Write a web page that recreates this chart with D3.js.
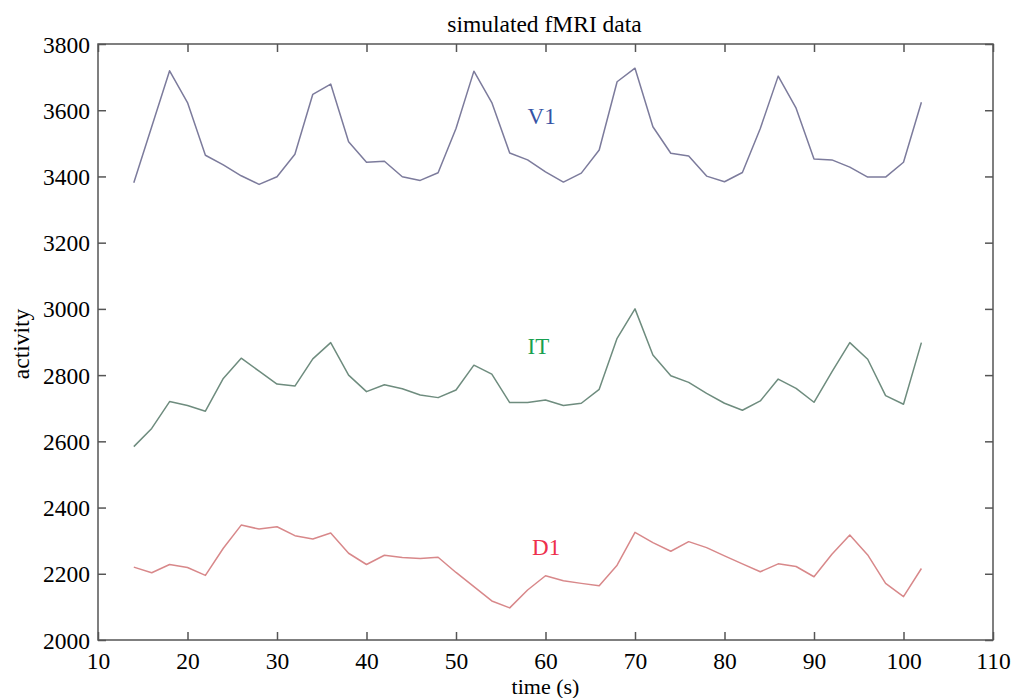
<!DOCTYPE html>
<html>
<head>
<meta charset="utf-8">
<script src="https://cdn.jsdelivr.net/npm/d3@7"></script>
<style>
    body { margin: 0; background: #fff; }
    text { font-family: "Liberation Serif", "Times New Roman", serif; }
</style>
</head>
<body>
<div id="chart"></div>
<script>
// time points (s)
var times = [14, 16, 18, 20, 22, 24, 26, 28, 30, 32, 34, 36, 38, 40, 42, 44, 46, 48, 50, 52, 54, 56, 58,
    60, 62, 64, 66, 68, 70, 72, 74, 76, 78, 80, 82, 84, 86, 88, 90, 92, 94, 96, 98, 100, 102];

var v1 = [3381, 3550, 3719, 3623, 3464, 3435, 3402, 3376, 3399, 3467, 3648, 3679, 3505, 3443, 3446, 3399,
    3388, 3411, 3545, 3718, 3623, 3471, 3450, 3414, 3383, 3410, 3480, 3686, 3727, 3550, 3470, 3462, 3401,
    3384, 3412, 3545, 3703, 3606, 3453, 3450, 3428, 3398, 3398, 3443, 3624];

var it = [2584, 2639, 2720, 2708, 2691, 2790, 2851, 2812, 2773, 2767, 2849, 2898, 2800, 2750, 2771, 2759,
    2740, 2732, 2755, 2830, 2803, 2717, 2717, 2725, 2708, 2715, 2757, 2911, 3000, 2861, 2798, 2778, 2745,
    2715, 2694, 2722, 2788, 2760, 2718, 2810, 2898, 2848, 2738, 2712, 2898];

var d1 = [2220, 2203, 2228, 2219, 2195, 2277, 2347, 2335, 2342, 2315, 2305, 2323, 2262, 2228, 2256, 2249,
    2246, 2250, 2204, 2161, 2118, 2097, 2151, 2194, 2179, 2171, 2164, 2226, 2325, 2294, 2268, 2297, 2279,
    2254, 2230, 2206, 2230, 2222, 2191, 2259, 2317, 2257, 2171, 2131, 2216];

var xTicks = [10, 20, 30, 40, 50, 60, 70, 80, 90, 100, 110];
var yTicks = [2000, 2200, 2400, 2600, 2800, 3000, 3200, 3400, 3600, 3800];

var seriesNames = ["V1", "IT", "D1"];
var seriesData = [v1, it, d1];
// where each series name sits, in data units
var labelX = [58, 58, 58.5];
var labelY = [3558, 2864, 2257];

var svgWidth = 1012;
var svgHeight = 698;

var margin = {
    top: 44,
    right: 19,
    left: 98,
    bottom: 58
};

var width = svgWidth - margin.left - margin.right;
var height = svgHeight - margin.top - margin.bottom;

var lineColors = ["#7c7b9c", "#6e8c7e", "#d8888a"];
var textColors = ["#3553a5", "#17a050", "#ee2f4c"];
var axisColor = "#555";
var fontSize = "23.5px";

var svg = d3.select("#chart")
    .append("svg")
    .attr("width", svgWidth)
    .attr("height", svgHeight);

var chartGroup = svg.append("g")
    .attr("transform", `translate(${margin.left}, ${margin.top})`);

// Scales
var xScale = d3.scaleLinear()
    .domain([10, 110])
    .range([0, width]);

var yScale = d3.scaleLinear()
    .domain([2000, 3800])
    .range([height, 0]);

// Lines
var line = d3.line()
    .x((d, i) => xScale(times[i]))
    .y(d => yScale(d));

chartGroup.selectAll(".series")
    .data(seriesData)
    .enter()
    .append("path")
    .attr("class", "series")
    .attr("d", d => line(d))
    .attr("fill", "none")
    .attr("stroke", (d, i) => lineColors[i])
    .attr("stroke-width", 1.5)
    .attr("stroke-linejoin", "round");

// Series names
chartGroup.selectAll(".name")
    .data(seriesNames)
    .enter()
    .append("text")
    .attr("class", "name")
    .attr("x", (d, i) => xScale(labelX[i]))
    .attr("y", (d, i) => yScale(labelY[i]))
    .attr("fill", (d, i) => textColors[i])
    .style("font-size", "23px")
    .text(d => d);

// Axes, ticks pointing inward on all four sides
var tickLen = 8;

function styleAxis(g) {
    g.select(".domain").remove();
    g.selectAll(".tick line").attr("stroke", axisColor).attr("stroke-width", 1.5);
    g.selectAll(".tick text").attr("fill", "#000").style("font-size", fontSize);
}

chartGroup.append("g")
    .attr("transform", `translate(0, ${height})`)
    .call(d3.axisBottom(xScale).tickValues(xTicks).tickFormat(d3.format("d"))
        .tickSizeInner(-tickLen).tickPadding(12).tickSizeOuter(0))
    .call(styleAxis)
    .call(g => g.selectAll(".tick text").attr("dy", "0.71em"));

chartGroup.append("g")
    .call(d3.axisLeft(yScale).tickValues(yTicks).tickFormat(d3.format("d"))
        .tickSizeInner(-tickLen).tickPadding(8).tickSizeOuter(0))
    .call(styleAxis)
    .call(g => g.selectAll(".tick text").attr("dy", "0.34em"));

chartGroup.append("g")
    .call(d3.axisTop(xScale).tickValues(xTicks).tickSizeInner(-tickLen).tickSizeOuter(0).tickFormat(""))
    .call(styleAxis);

chartGroup.append("g")
    .attr("transform", `translate(${width}, 0)`)
    .call(d3.axisRight(yScale).tickValues(yTicks).tickSizeInner(-tickLen).tickSizeOuter(0).tickFormat(""))
    .call(styleAxis);

// frame
chartGroup.append("rect")
    .attr("width", width)
    .attr("height", height)
    .attr("fill", "none")
    .attr("stroke", axisColor)
    .attr("stroke-width", 1.5);

// Title
chartGroup.append("text")
    .attr("x", width / 2 - 1)
    .attr("y", -12)
    .attr("text-anchor", "middle")
    .style("font-size", fontSize)
    .text("simulated fMRI data");

// Axes labels
chartGroup.append("text")
    .attr("transform", "rotate(-90)")
    .attr("x", 0 - (height / 2) - 2)
    .attr("y", 0 - margin.left + 29)
    .attr("text-anchor", "middle")
    .style("font-size", fontSize)
    .text("activity");

chartGroup.append("text")
    .attr("x", width / 2)
    .attr("y", height + 54)
    .attr("text-anchor", "middle")
    .style("font-size", "22px")
    .text("time (s)");
</script>
</body>
</html>
